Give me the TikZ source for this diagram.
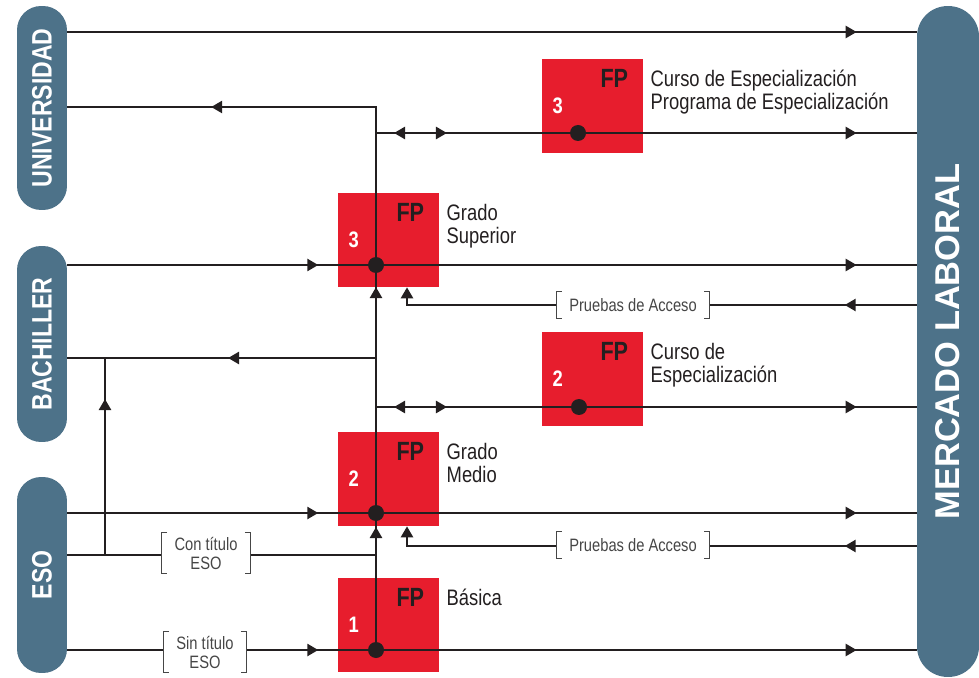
\documentclass[tikz,border=0pt]{standalone}
\usepackage{graphicx}
\usepackage{fontspec}
\setmainfont{Liberation Sans}[FakeStretch=0.82]
\newfontfamily\widefont{Liberation Sans}
\usetikzlibrary{arrows.meta,decorations.markings}

\definecolor{barblue}{RGB}{77,114,137}
\definecolor{fpred}{RGB}{231,29,45}
\definecolor{ink}{RGB}{35,31,32}
\definecolor{txtgray}{RGB}{70,70,70}

\tikzset{
  >={Triangle[length=2.2mm,width=2.4mm]},
  flow/.style={draw=ink, line width=1.4pt},
  tip at/.style={postaction={decorate,decoration={markings,mark=at position #1 with {\arrow{>}}}}},
  back at/.style={postaction={decorate,decoration={markings,mark=at position #1 with {\arrowreversed{>}}}}},
  bar/.style={fill=barblue, inner sep=0pt, text=white, font=\bfseries\fontsize{16}{16}\selectfont},
  fpbox/.style={fill=fpred, minimum width=2.02cm, minimum height=1.88cm, inner sep=0pt},
  fplab/.style={text=ink, inner sep=0pt, font=\bfseries\fontsize{15}{15}\selectfont},
  fpnum/.style={text=white, inner sep=0pt, font=\bfseries\fontsize{12.75}{13}\selectfont},
  side/.style={anchor=north west, align=left, inner sep=0pt, text=ink, font=\fontsize{12.75}{13}\selectfont},
  bracket/.style={fill=white, align=center, inner xsep=7pt, inner ysep=2pt, minimum height=0.54cm, text=txtgray, font=\fontsize{10.2}{10.8}\selectfont},
  brk/.style={draw=txtgray, line width=0.6pt},
  dot/.style={circle, fill=ink, inner sep=0pt, minimum size=0.32cm}
}

\begin{document}
\begin{tikzpicture}[x=0.02cm, y=-0.02cm]
  \useasboundingbox (0,0) rectangle (979,678);

  % columns left and right
  \node[bar, rounded corners=0.48cm, minimum width=1cm, minimum height=4.08cm] (uni) at (42,108) {\rotatebox{90}{UNIVERSIDAD}};
  \node[bar, rounded corners=0.48cm, minimum width=1cm, minimum height=3.92cm] (bach) at (42,344) {\rotatebox{90}{BACHILLER}};
  \node[bar, rounded corners=0.48cm, minimum width=1cm, minimum height=3.92cm] (eso) at (42,575) {\rotatebox{90}{ESO}};
  \node[bar, rounded corners=0.61cm, minimum width=1.24cm, minimum height=13.42cm,
        font=\widefont\bfseries\fontsize{19.6}{20}\selectfont] (merc) at (948,341.5) {\rotatebox{90}{MERCADO LABORAL}};

  % FP boxes
  \node[fpbox] (fp3c) at (592.5,106) {};
  \node[fpbox] (gs)   at (388.5,240) {};
  \node[fpbox] (fp2c) at (592.5,379) {};
  \node[fpbox] (gm)   at (388.5,479) {};
  \node[fpbox] (fb)   at (388.5,625) {};
  \foreach \b/\k in {fp3c/3, gs/3, fp2c/2, gm/2, fb/1} {
    \node[fplab] (\b-fp) at ([shift={(-29,20)}]\b.north east) {FP};
    \node[fpnum] (\b-num) at ([shift={(16,47)}]\b.north west) {\k};
  }
  \node[side] (fp3c-t) at ([shift={(7,11)}]fp3c.north east) {Curso de Especialización\\Programa de Especialización};
  \node[side] (gs-t)   at ([shift={(7,11)}]gs.north east) {Grado\\Superior};
  \node[side] (fp2c-t) at ([shift={(7,11)}]fp2c.north east) {Curso de\\Especialización};
  \node[side] (gm-t)   at ([shift={(7,11)}]gm.north east) {Grado\\Medio};
  \node[side] (fb-t)   at ([shift={(7,11)}]fb.north east) {Básica};

  % levels and junctions
  \coordinate (ytop) at (0,32);
  \coordinate (univ j) at (376,107);
  \coordinate (spec3 j) at (376,133);
  \coordinate (ygs) at (0,265);
  \coordinate (pa1 j) at (407,305);
  \coordinate (bach j) at (376,358);
  \coordinate (spec2 j) at (376,407);
  \coordinate (ygm) at (0,513);
  \coordinate (pa2 j) at (407,546);
  \coordinate (eso j) at (376,555);
  \coordinate (bach up) at (105,555);
  \coordinate (bach in) at (105,358);
  \coordinate (yfb) at (0,650);

  \coordinate (gs d) at (376,265);
  \coordinate (gm d) at (376,513);
  \coordinate (fb d) at (376,650);
  \coordinate (fp3c d) at (578,133);
  \coordinate (fp2c d) at (579,407);

  % connectors
  \draw[flow, tip at=-1.2cm] (uni.east |- ytop) -- (merc.west |- ytop);
  \draw[flow, tip at=2.46cm, tip at=7.26cm, tip at=14.16cm] (fb d) -- (univ j) -- (uni.east |- univ j);
  \draw[flow, back at=0.36cm, tip at=1.42cm, tip at=-1.2cm] (spec3 j) -- (merc.west |- spec3 j);
  \draw[flow, tip at=5.02cm, tip at=-1.2cm] (bach.east |- ygs) -- (merc.west |- ygs);
  \draw[flow, tip at=1.44cm, ->] (merc.west |- pa1 j) -- (pa1 j) -- (gs.south -| pa1 j);
  \draw[flow, tip at=2.96cm] (bach j) -- (bach.east |- bach j);
  \draw[flow, tip at=3.12cm] (bach up) -- (bach in);
  \draw[flow, back at=0.36cm, tip at=1.42cm, tip at=-1.2cm] (spec2 j) -- (merc.west |- spec2 j);
  \draw[flow, tip at=5.02cm, tip at=-1.2cm] (eso.east |- ygm) -- (merc.west |- ygm);
  \draw[flow, tip at=1.44cm, ->] (merc.west |- pa2 j) -- (pa2 j) -- (gm.south -| pa2 j);
  \draw[flow] (eso.east |- eso j) -- (eso j);
  \draw[flow, tip at=5.02cm, tip at=-1.2cm] (eso.east |- yfb) -- (merc.west |- yfb);

  \foreach \d in {gs d, gm d, fb d, fp3c d, fp2c d}
    \node[dot] at (\d) {};

  % access notes
  \node[bracket] (pa1) at (633,305) {Pruebas de Acceso};
  \node[bracket] (pa2) at (633,545) {Pruebas de Acceso};
  \node[bracket] (cte) at (206,553) {Con título\\ESO};
  \node[bracket] (ste) at (205,652) {Sin título\\ESO};
  \foreach \n in {pa1, pa2, cte, ste} {
    \draw[brk] ([xshift=3pt]\n.north west) -| (\n.south west) -- ++(3pt,0);
    \draw[brk] ([xshift=-3pt]\n.north east) -| (\n.south east) -- ++(-3pt,0);
  }
\end{tikzpicture}
\end{document}
